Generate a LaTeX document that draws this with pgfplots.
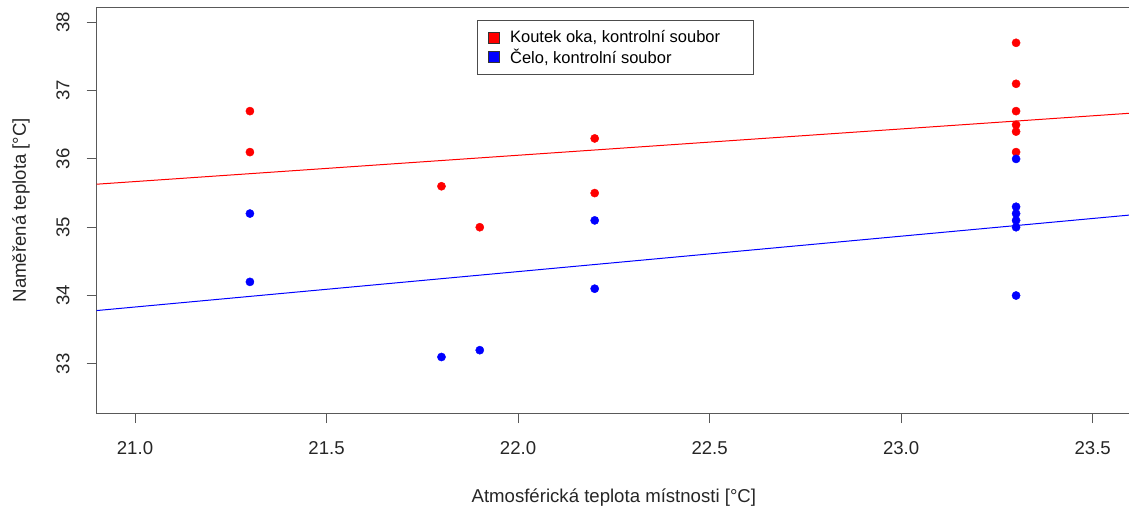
\documentclass[border=0pt]{standalone}
\usepackage{fontspec}
\setmainfont{Liberation Sans}
\usepackage{pgfplots}
\pgfplotsset{compat=1.18}

\begin{document}
\begin{tikzpicture}
\begin{axis}[
  scale only axis,
  width=1034.3pt, height=405.7pt,
  at={(0,0)}, anchor=south west,
  xmin=20.9, xmax=23.6, ymin=32.28, ymax=38.22,
  xtick={21,21.5,22,22.5,23,23.5},
  ytick={33,34,35,36,37,38},
  tick pos=left, tick align=outside,
  major tick length=10pt,
  axis line style={draw=black!65, line width=1pt},
  every tick/.style={draw=black!65, line width=1pt},
  /pgf/number format/assume math mode=true,
  tick label style={font=\fontsize{18.6}{22}\selectfont, text=black!85},
  xticklabel style={/pgf/number format/.cd, fixed, fixed zerofill, precision=1, /tikz/.cd,
    anchor=north, inner sep=0pt},
  xticklabel shift=18pt,
  yticklabel style={rotate=90, anchor=south, inner sep=0pt},
  yticklabel shift=17pt,
  label style={font=\fontsize{18.6}{22}\selectfont, text=black!85},
  xlabel={Atmosférická teplota místnosti [°C]},
  ylabel={Naměřená teplota [°C]},
  xlabel style={at={(axis description cs:0.5,-0.2194)}, anchor=base},
  ylabel style={at={(axis description cs:-0.06836,0.5)}, anchor=base, rotate=0},
  legend cell align=left,
  legend style={at={(axis description cs:0.3677,0.9687)}, anchor=north west,
    draw=black!70, line width=1pt, font=\fontsize{16.5}{19}\selectfont,
    inner xsep=10pt, inner ysep=8pt, row sep=0.7pt, column sep=6pt,
    nodes={inner xsep=5pt, inner ysep=2pt}},
]
% legend swatches: filled squares
\addlegendimage{legend image code/.code={\draw[draw=black!80, fill=red, line width=0.6pt] (0pt,-5.5pt) rectangle (11pt,5.5pt);}}
\addlegendentry{Koutek oka, kontrolní soubor\hspace*{18pt}}
\addlegendimage{legend image code/.code={\draw[draw=black!80, fill=blue, line width=0.6pt] (0pt,-5.5pt) rectangle (11pt,5.5pt);}}
\addlegendentry{Čelo, kontrolní soubor}

% eye corner, control group
\addplot[only marks, mark=*, mark size=4.1pt, color=red, mark options={line width=0.4pt}, forget plot]
  coordinates {
  (21.3,36.7) (21.3,36.1)
  (21.8,35.6) (21.9,35.0)
  (22.2,36.3) (22.2,35.5)
  (23.3,37.7) (23.3,37.1) (23.3,36.7) (23.3,36.5) (23.3,36.4) (23.3,36.1)
  };
% forehead, control group
\addplot[only marks, mark=*, mark size=4.1pt, color=blue, mark options={line width=0.4pt}, forget plot]
  coordinates {
  (21.3,35.2) (21.3,34.2)
  (21.8,33.1) (21.9,33.2)
  (22.2,35.1) (22.2,34.1)
  (23.3,36.0) (23.3,35.3) (23.3,35.2) (23.3,35.1) (23.3,35.0) (23.3,34.0)
  };
% fitted regression lines
\addplot[red, line width=1pt, forget plot] coordinates {(20.9,35.63) (23.6,36.67)};
\addplot[blue, line width=1pt, forget plot] coordinates {(20.9,33.78) (23.6,35.18)};
\end{axis}
\pgfresetboundingbox
\path[use as bounding box] (-96.7pt,-94pt) rectangle (1032.3pt,413pt);
\end{tikzpicture}
\end{document}
